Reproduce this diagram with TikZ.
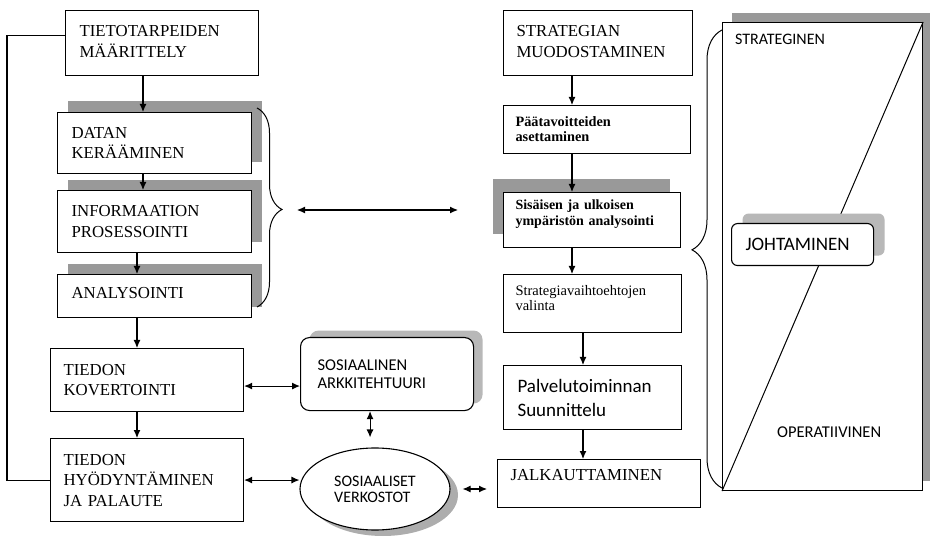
\documentclass[tikz,border=0pt]{standalone}
\usepackage{fontspec}
\setmainfont{Liberation Serif}
\newfontfamily\calibrifont{Carlito}
\usetikzlibrary{arrows.meta,shapes.geometric,shadows,decorations.pathreplacing}
\begin{document}
\begin{tikzpicture}[x=1pt,y=-1pt,
  >={Latex[length=8pt,width=7pt]},
  box/.style={draw, line width=1.1pt, fill=white, anchor=north west,
    align=left, inner xsep=14pt, inner ysep=0pt},
  rbox/.style={box, rounded corners=9pt},
  capsfont/.style={font=\fontsize{16.8}{20.5}\selectfont},
  sansfont/.style 2 args={font=\calibrifont\fontsize{#1}{#2}\selectfont},
  flow/.style={line width=1.1pt, ->},
  both/.style={line width=1.1pt, <->},
  link/.style={line width=1.1pt},
  shade/.style 2 args={drop shadow={shadow xshift=#1pt, shadow yshift=#2pt,
    opacity=1, fill=black!40}},
  softshade/.style 2 args={drop shadow={shadow xshift=#1pt, shadow yshift=#2pt,
    opacity=1, fill=black!28}},
  curly/.style 2 args={decorate, line width=1pt,
    decoration={brace, amplitude=#1pt, aspect=#2}},
]
\useasboundingbox (0,0) rectangle (930,540);

% ---- information process (left column) ----
\node[box, capsfont, text width=165pt, minimum height=65pt, text depth=24pt]
  (A) at (65,10) {TIETOTARPEIDEN\\MÄÄRITTELY};
\node[box, capsfont, shade={10}{12}, text width=166pt, minimum height=61pt]
  (B) at (57,112) {DATAN\\KERÄÄMINEN};
\node[box, capsfont, shade={10}{11}, text width=166pt, minimum height=62pt]
  (C) at (57,190) {INFORMAATION\\PROSESSOINTI};
\node[box, capsfont, shade={10}{11}, text width=166pt, minimum height=43pt, text depth=7pt]
  (D) at (57,274) {ANALYSOINTI};
\node[box, capsfont, inner xsep=13pt, text width=167pt, minimum height=63pt]
  (E) at (50,348) {TIEDON\\KOVERTOINTI};
\node[box, capsfont, inner xsep=13pt, text width=167pt, minimum height=83pt]
  (F) at (50,438) {TIEDON\\HYÖDYNTÄMINEN\\JA PALAUTE};

% ---- social layer (middle) ----
\node[rbox, sansfont={16.5}{18.5}, softshade={9}{7}, inner xsep=17pt, text width=139pt,
  minimum height=73pt] (G) at (300,337) {SOSIAALINEN\\ARKKITEHTUURI};
\node[draw, line width=1.1pt, fill=white, ellipse, minimum width=150pt,
  minimum height=82pt, inner sep=0pt, align=left, sansfont={16}{16},
  drop shadow={shadow xshift=8pt, shadow yshift=-6pt, opacity=1, fill=black!32}]
  (H) at (375,489) {SOSIAALISET\\VERKOSTOT};

% ---- strategy process (right column) ----
\node[box, capsfont, inner xsep=13pt, text width=163pt, minimum height=65pt, text depth=24pt]
  (I) at (503,10) {STRATEGIAN\\MUODOSTAMINEN};
\node[box, font=\bfseries\fontsize{14.3}{15}\selectfont, inner xsep=12pt,
  text width=163pt, minimum height=48pt] (J) at (503,105) {Päätavoitteiden\\asettaminen};
\node[box, font=\bfseries\fontsize{14}{16}\selectfont, shade={-11}{14}, inner xsep=12pt,
  text width=153pt, minimum height=55pt, text depth=30pt]
  (K) at (503,192) {Sisäisen ja ulkoisen\\ympäristön analysointi};
\node[box, font=\fontsize{14.5}{15}\selectfont, inner xsep=12pt, text width=154pt,
  minimum height=58pt, text depth=26pt] (L) at (503,274) {Strategiavaihtoehtojen\\valinta};
\node[box, sansfont={19}{24}, inner xsep=14pt, text width=150pt, minimum height=64pt]
  (M) at (503,365) {Palvelutoiminnan\\Suunnittelu};
\node[box, capsfont, inner xsep=13pt, text width=177pt, minimum height=48pt, text depth=17pt]
  (N) at (497,459) {JALKAUTTAMINEN};

% ---- management scale ----
\node[draw, line width=1.1pt, fill=white, anchor=north west, inner sep=0pt,
  minimum width=200pt, minimum height=468pt, shade={9}{10}] (O) at (722,22) {};
\draw[line width=1pt] (O.south west) -- (O.north east);
\node[rbox, rounded corners=6pt, sansfont={19}{22}, softshade={11}{10}, text width=114pt,
  minimum height=42pt] (P) at (731,223) {JOHTAMINEN};
\node[anchor=base west, inner sep=0pt, sansfont={16}{18}] (st) at (735,45) {STRATEGINEN};
\node[anchor=base west, inner sep=0pt, sansfont={16.5}{18}] (op) at (777,437) {OPERATIIVINEN};

% ---- flow arrows ----
\draw[flow] ([xshift=78pt]A.south west) -- ([xshift=86pt]B.north west);
\draw[flow] ([xshift=86pt]B.south west) -- ([xshift=86pt]C.north west);
\draw[flow] ([xshift=80pt]C.south west) -- ([xshift=80pt]D.north west);
\draw[flow] ([xshift=80pt]D.south west) -- ([xshift=87pt]E.north west);
\draw[flow] ([xshift=87pt]E.south west) -- ([xshift=87pt]F.north west);

\draw[flow] ([xshift=69pt]I.south west) -- ([xshift=69pt]J.north west);
\draw[flow] ([xshift=69pt]J.south west) -- ([xshift=69pt]K.north west);
\draw[flow] ([xshift=69pt]K.south west) -- ([xshift=69pt]L.north west);
\draw[flow] ([xshift=80pt]L.south west) -- ([xshift=80pt]M.north west);
\draw[flow] ([xshift=80pt]M.south west) -- ([xshift=86pt]N.north west);

% feedback from use back to needs definition
\coordinate (fb) at (7,0);
\draw[link] ([yshift=7.5pt]A.west) -- ([yshift=7.5pt]A.west -| fb)
  -- (F.west -| fb) -- (F.west);

% ---- two-way links ----
\draw[both] ([yshift=-6pt]E.east) -- ([yshift=-6pt]E.east -| G.west);
\draw[both] (F.east) -- (F.east -| H.west);
\draw[both, shorten >=10pt] ([xshift=-17pt]G.south) -- ([xshift=-17pt]G.south |- H.north);
\draw[both, shorten <=12pt, shorten >=10pt] (H.east) -- (H.east -| N.west);
\coordinate (ml) at (297,210);
\coordinate (mr) at (458,210);
\draw[both] (ml) -- (mr);

% ---- braces ----
\coordinate (lbt) at (257,108);
\coordinate (lbb) at (257,307);
\draw[curly={25}{0.51}] (lbt) -- (lbb);
\coordinate (rbb) at (722,488);
\coordinate (rbt) at (722,30);
\draw[curly={30}{0.52}] (rbb) -- (rbt);
\end{tikzpicture}
\end{document}
